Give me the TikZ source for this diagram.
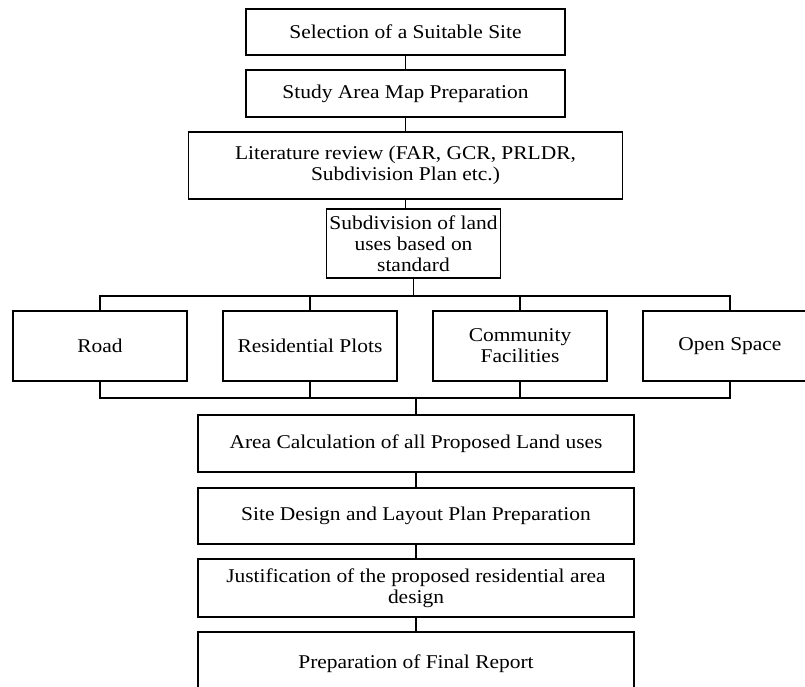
\documentclass[tikz,border=0pt]{standalone}
\usepackage{fontspec}
\setmainfont{Liberation Serif}[FakeStretch=1.1]
\usetikzlibrary{positioning}
\begin{document}
\begin{tikzpicture}[
		x=1pt, y=1pt,
		node distance = 15pt,
		BoxStyle/.style={draw, line width=1.2pt, align=center, inner sep=2pt, outer sep=0pt,
			font=\fontsize{19.5}{21}\selectfont},
		WideStyle/.style={BoxStyle, minimum width=436pt},
		UseStyle/.style={BoxStyle, minimum width=174pt, minimum height=70pt},
		LinkStyle/.style={line width=1.2pt}]
	\clip (0,0) rectangle (805,-686);
	\node [BoxStyle, minimum width=319pt, minimum height=46pt] (site) at (405.5,-32) {Selection of a Suitable Site};
	\node [BoxStyle, minimum width=319pt, minimum height=47pt, below=of site] (map) {Study Area Map Preparation};
	\node [BoxStyle, minimum width=434pt, minimum height=67pt, below=of map] (lit) {Literature review (FAR, GCR, PRLDR,\\ Subdivision Plan etc.)};
	\node [BoxStyle, minimum width=174pt, minimum height=69pt, below=10pt of lit, xshift=8pt] (subdiv) {Subdivision of land\\ uses based on\\ standard};
	\node [UseStyle] (road) at (100,-346) {Road};
	\node [UseStyle, right=36pt of road] (plots) {Residential Plots};
	\node [UseStyle, right=36pt of plots] (facil) {Community\\ Facilities};
	\node [UseStyle, right=36pt of facil] (open) {Open Space};
	\node [WideStyle, minimum height=57pt] (area) at (416,-443.5) {Area Calculation of all Proposed Land uses};
	\node [WideStyle, minimum height=56pt, below=16pt of area] (design) {Site Design and Layout Plan Preparation};
	\node [WideStyle, minimum height=58pt, below=of design] (justif) {Justification of the proposed residential area\\ design};
	\node [WideStyle, minimum height=64pt, below=of justif] (report) {Preparation of Final Report};
	\begin{scope}[LinkStyle]
		\draw (site) -- (map);
		\draw (map) -- (lit);
		\draw (lit.south) -- (lit.south |- subdiv.north);
		\draw (road.north) -- ++(0,15) coordinate (bustop) -| (open.north);
		\draw (plots.north) -- (plots.north |- bustop);
		\draw (facil.north) -- (facil.north |- bustop);
		\draw (subdiv.south) -- (subdiv.south |- bustop);
		\draw (road.south) -- ++(0,-17) coordinate (busbot) -| (open.south);
		\draw (plots.south) -- (plots.south |- busbot);
		\draw (facil.south) -- (facil.south |- busbot);
		\draw (area.north) -- (area.north |- busbot);
		\draw (area) -- (design);
		\draw (design) -- (justif);
		\draw (justif) -- (report);
	\end{scope}
\end{tikzpicture}
\end{document}
